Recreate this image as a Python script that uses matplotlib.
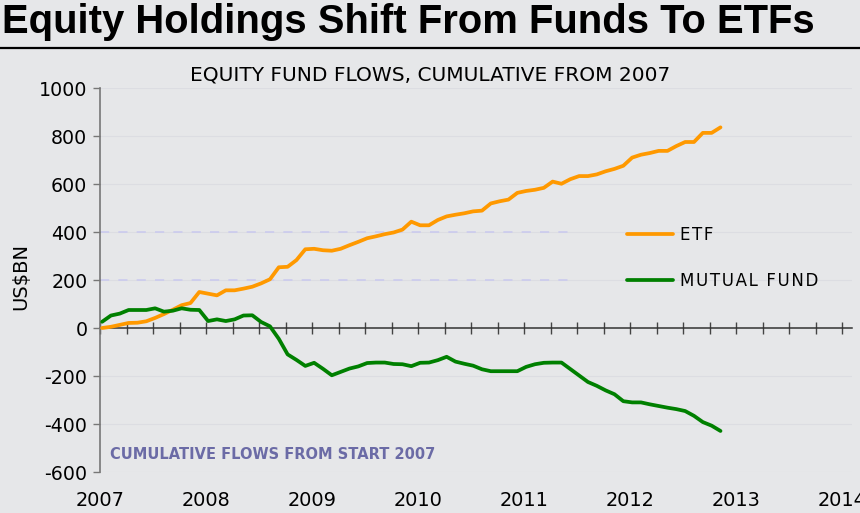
import numpy as np
import matplotlib
matplotlib.use("Agg")
import matplotlib.pyplot as plt
from matplotlib.lines import Line2D

# ---------------- data ----------------
n_months = 71  # Jan 2007 .. Nov 2012, monthly
months = 2007.02 + np.arange(n_months) / 12.0

etf = [0, 5, 13, 21, 22, 28, 42, 58, 76, 95,
       104, 150, 143, 136, 157, 157, 164, 172, 186, 203,
       253, 255, 283, 328, 330, 324, 322, 330, 345, 359,
       374, 382, 391, 398, 410, 443, 428, 428, 450, 465,
       472, 478, 486, 489, 519, 528, 535, 563, 571, 576,
       584, 610, 601, 620, 633, 633, 640, 653, 663, 676,
       710, 722, 729, 738, 738, 758, 775, 775, 813, 813,
       836]

mutual_fund = [26, 52, 60, 75, 75, 75, 82, 68, 72, 82,
               76, 75, 29, 36, 29, 36, 52, 53, 25, 7,
               -45, -110, -133, -158, -145, -170, -197, -183, -169, -160,
               -146, -144, -144, -150, -151, -159, -145, -144, -134, -120,
               -140, -149, -157, -172, -180, -180, -180, -180, -162, -151,
               -145, -144, -144, -171, -198, -225, -241, -260, -276, -305,
               -310, -310, -318, -325, -332, -338, -346, -366, -392, -407,
               -429]

series_labels = ["ETF", "MUTUAL FUND"]
year_ticks = [2007, 2008, 2009, 2010, 2011, 2012, 2013, 2014]
year_labels = ["2007", "2008", "2009", "2010", "2011", "2012", "2013", "2014"]
quarter_ticks = np.arange(2007, 2014.01, 0.25)
y_ticks = [-600, -400, -200, 0, 200, 400, 600, 800, 1000]

title = "Equity Holdings Shift From Funds To ETFs"
subtitle = "EQUITY FUND FLOWS, CUMULATIVE FROM 2007"
note = "CUMULATIVE FLOWS FROM START 2007"
ylabel = "US$BN"

# ---------------- style ----------------
BG = "#e6e7e9"
ORANGE = "#ff9900"
GREEN = "#008000"

fig = plt.figure(figsize=(8.6, 5.13), dpi=100, facecolor=BG)
ax = fig.add_axes([100 / 860, 41 / 513, 752 / 860, 384 / 513], facecolor=BG)

ax.set_xlim(2007, 2014.094)
ax.set_ylim(-600, 1000)

# faint grid
for y in y_ticks:
    if y != 0:
        ax.axhline(y, color="#dcdde2", lw=0.8, zorder=0)
ax.hlines([200, 400], 2007, 2011.45, colors="#c9c9ef", lw=1.1,
          linestyles=(0, (6, 6)), zorder=1)

l1, = ax.plot(months, etf, color=ORANGE, lw=2.7, solid_joinstyle="round",
              solid_capstyle="round", zorder=3)
l2, = ax.plot(months, mutual_fund, color=GREEN, lw=2.7, solid_joinstyle="round",
              solid_capstyle="round", zorder=3)

# spines
for s in ["top", "right", "bottom"]:
    ax.spines[s].set_visible(False)
ax.spines["left"].set_color("#777777")
ax.spines["left"].set_linewidth(1.2)

ax.set_yticks(y_ticks)
ax.set_yticklabels([str(v) for v in y_ticks])
ax.tick_params(axis="y", direction="out", length=5, width=1, color="#777777",
               labelsize=13.7, pad=4)
ax.set_xticks(year_ticks)
ax.set_xticklabels(year_labels)
ax.tick_params(axis="x", length=0, labelsize=13.9, pad=13.5)

# zero axis with quarterly ticks
sec = ax.secondary_xaxis(0.375)
sec.set_xticks(quarter_ticks)
sec.tick_params(axis="x", direction="inout", length=8, width=1, color="#444444",
                labelbottom=False, labeltop=False)
sec.spines["bottom"].set_color("#333333")
sec.spines["bottom"].set_linewidth(1.1)
sec.spines["top"].set_visible(False)

ax.set_ylabel(ylabel, fontsize=14)
ax.yaxis.set_label_coords(-0.093, 0.51)

ax.text(2007.09, -529, note, fontsize=10.5, fontweight="bold", color="#6b6ba6",
        va="center", ha="left")

leg = ax.legend([l1, l2], ["\u200a".join(s) for s in series_labels],
                loc="upper left", bbox_to_anchor=(0.7008, 0.640),
                frameon=False, fontsize=12, handlelength=2.76,
                handletextpad=0.42, labelspacing=1.66, borderpad=0,
                borderaxespad=0)

# titles
fig.text(0.002, 1 - 22 / 513, title, fontsize=28.8, fontweight="bold",
         family=["Liberation Sans", "DejaVu Sans"], va="center", ha="left")
fig.add_artist(Line2D([0, 1], [1 - 48 / 513, 1 - 48 / 513], color="black", lw=1.6))
fig.text(430 / 860, 1 - 75 / 513, subtitle, fontsize=14.5, va="center", ha="center")

fig.savefig("out.png", dpi=100, facecolor=BG)
